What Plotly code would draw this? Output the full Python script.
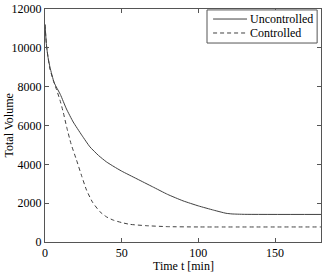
import plotly.graph_objects as go

t_unc = [0, 1, 2, 3.25, 6, 10, 14, 18.4, 24, 29.3, 35, 40, 45, 50, 60, 70, 80, 90, 100, 110, 118, 122, 130, 180]
v_unc = [11200, 10100, 9500, 9000, 8200, 7600, 6850, 6180, 5500, 4900, 4450, 4130, 3880, 3650, 3250, 2850, 2450, 2120, 1860, 1640, 1480, 1445, 1425, 1420]

t_ctl = [0, 1, 2, 3.25, 5.4, 7.5, 9.8, 12, 14.1, 17, 20.6, 24, 27.1, 31, 35.8, 40, 44.4, 50, 55.3, 66, 80, 100, 180]
v_ctl = [11200, 10100, 9500, 8900, 8330, 7850, 7300, 6650, 5930, 5050, 4210, 3380, 2670, 2050, 1560, 1300, 1130, 1000, 910, 840, 790, 775, 775]

x_ticks = [0, 50, 100, 150]
y_ticks = [0, 2000, 4000, 6000, 8000, 10000, 12000]
y_ticklabels = [str(v) for v in y_ticks]
series_names = ["Uncontrolled", "Controlled"]

line_col = "#404040"
fig = go.Figure()
fig.add_trace(go.Scatter(x=t_unc, y=v_unc, mode="lines", name=series_names[0],
                         line=dict(color=line_col, width=1, shape="spline", smoothing=0.5)))
fig.add_trace(go.Scatter(x=t_ctl, y=v_ctl, mode="lines", name=series_names[1],
                         line=dict(color=line_col, width=1, dash="4px,3px", shape="spline", smoothing=0.5)))

font = dict(family="Liberation Serif", size=12, color="black")
axis_common = dict(showline=True, linecolor="#555555", linewidth=1, mirror="ticks",
                   ticks="inside", ticklen=4, tickcolor="#555555", showgrid=False,
                   zeroline=False, tickfont=font, automargin=False)
fig.update_layout(
    width=326, height=273,
    margin=dict(l=45, r=5, t=9, b=31),
    paper_bgcolor="white", plot_bgcolor="white",
    font=font,
    showlegend=False,
    xaxis=dict(range=[0, 180], tickvals=x_ticks, **axis_common),
    yaxis=dict(range=[0, 12000], tickvals=y_ticks, ticktext=y_ticklabels, **axis_common),
)

# axis titles
fig.add_annotation(text="Time t [min]", xref="paper", yref="paper", x=0.5, y=-0.103,
                   xanchor="center", yanchor="middle", showarrow=False, font=font)
fig.add_annotation(text="Total Volume", xref="paper", yref="paper", x=-0.134, y=0.5,
                   xanchor="center", yanchor="middle", textangle=-90, showarrow=False, font=font)

# legend box
fig.add_shape(type="rect", xref="paper", yref="paper", x0=0.587, x1=0.986, y0=0.854, y1=0.996,
              line=dict(color="#555555", width=1), fillcolor="white", layer="above")
fig.add_shape(type="line", xref="paper", yref="paper", x0=0.609, x1=0.732, y0=0.957, y1=0.957,
              line=dict(color=line_col, width=1), layer="above")
fig.add_shape(type="line", xref="paper", yref="paper", x0=0.609, x1=0.732, y0=0.897, y1=0.897,
              line=dict(color=line_col, width=1, dash="4px,3px"), layer="above")
fig.add_annotation(text=series_names[0], xref="paper", yref="paper", x=0.737, y=0.957,
                   xanchor="left", yanchor="middle", showarrow=False, font=font)
fig.add_annotation(text=series_names[1], xref="paper", yref="paper", x=0.737, y=0.897,
                   xanchor="left", yanchor="middle", showarrow=False, font=font)

fig.write_html("out.html", config={"displayModeBar": False},
               post_script="document.body.style.margin='0';document.body.style.overflow='hidden';")
